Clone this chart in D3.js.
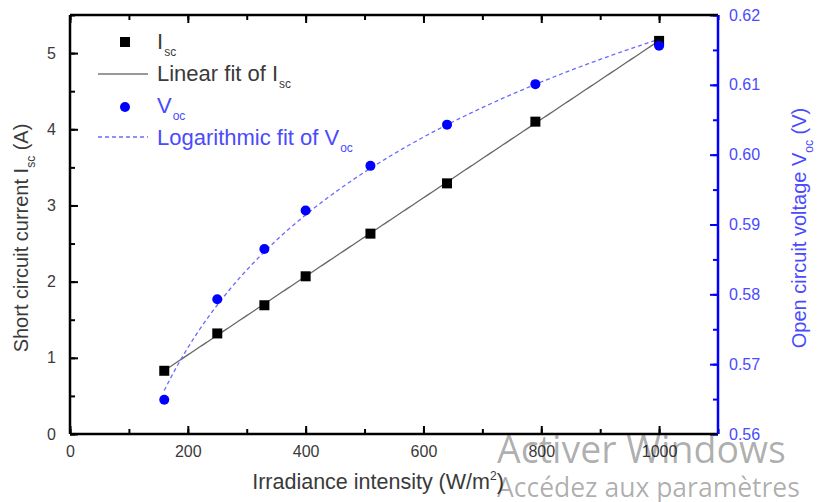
<!DOCTYPE html>
<html>
<head>
<meta charset="utf-8">
<script src="https://cdn.jsdelivr.net/npm/d3@7"></script>
<style>
  body { margin: 0; background: #fff; }
  svg { font-family: "Liberation Sans", Arial, sans-serif; }
</style>
</head>
<body>
<svg id="chart" width="822" height="502"></svg>
<script>
// --- data ---
const irradiance = [160, 250, 330, 400, 510, 640, 790, 1000];
const isc = [0.83, 1.32, 1.69, 2.07, 2.63, 3.29, 4.10, 5.16];
const voc = [0.5649, 0.5793, 0.5865, 0.5920, 0.5984, 0.6043, 0.6101, 0.6156];

const xTicks = [0, 200, 400, 600, 800, 1000];
const iscTicks = [0, 1, 2, 3, 4, 5];
const vocTicks = [0.56, 0.57, 0.58, 0.59, 0.60, 0.61, 0.62];

const svg = d3.select("#chart");
const plot = { left: 70, right: 718, top: 15, bottom: 434 };

const x = d3.scaleLinear().domain([0, 1100]).range([plot.left, plot.right]);
const yI = d3.scaleLinear().domain([0, 5.5]).range([plot.bottom, plot.top]);
const yV = d3.scaleLinear().domain([0.56, 0.62]).range([plot.bottom, plot.top]);

const blue = "#0000ff";
const lightBlue = "#4a4aff";
const grey = "#3a3a3a";

// least squares fits (linear for Isc, log for Voc)
function fitLinear(xs, ys) {
    const n = xs.length;
    const mx = d3.mean(xs), my = d3.mean(ys);
    let sxy = 0, sxx = 0;
    for (let i = 0; i < n; i++) {
        sxy += (xs[i] - mx) * (ys[i] - my);
        sxx += (xs[i] - mx) * (xs[i] - mx);
    }
    const b = sxy / sxx;
    return { a: my - b * mx, b: b };
}
const lin = fitLinear(irradiance, isc);
const logf = fitLinear(irradiance.map(Math.log), voc);

const fitXs = d3.range(d3.min(irradiance), d3.max(irradiance) + 1, 5);

// --- axes (ticks pointing inward) ---
function minorTicks(scale, step) {
    const [a, b] = scale.domain();
    return d3.range(a, b + step / 2, step);
}

function addAxis(axis, pos, cls) {
    return svg.append("g")
        .attr("class", cls)
        .attr("transform", pos)
        .call(axis)
        .call(g => g.select(".domain").remove());
}

const bottomT = `translate(0,${plot.bottom})`;
const topT = `translate(0,${plot.top})`;
const leftT = `translate(${plot.left},0)`;
const rightT = `translate(${plot.right},0)`;

addAxis(d3.axisBottom(x).tickValues(minorTicks(x, 100)).tickSize(-5).tickFormat(""), bottomT, "ax");
addAxis(d3.axisBottom(x).tickValues(xTicks).tickSize(-8).tickPadding(12).tickFormat(d3.format("d")), bottomT, "ax");
addAxis(d3.axisTop(x).tickValues(minorTicks(x, 100)).tickSize(-5).tickFormat(""), topT, "ax");
addAxis(d3.axisTop(x).tickValues(xTicks).tickSize(-8).tickFormat(""), topT, "ax");
addAxis(d3.axisLeft(yI).tickValues(minorTicks(yI, 0.5)).tickSize(-5).tickFormat(""), leftT, "ax");
addAxis(d3.axisLeft(yI).tickValues(iscTicks).tickSize(-8).tickPadding(14).tickFormat(d3.format("d")), leftT, "ax");
addAxis(d3.axisRight(yV).tickValues(minorTicks(yV, 0.005)).tickSize(-5).tickFormat(""), rightT, "axr");
addAxis(d3.axisRight(yV).tickValues(vocTicks).tickSize(-8).tickPadding(11).tickFormat(d3.format(".2f")), rightT, "axr");

svg.selectAll(".tick line").attr("stroke-width", 2).attr("stroke", "#000");
svg.selectAll(".axr .tick line").attr("stroke", blue);
svg.selectAll(".tick text").attr("font-size", 16).attr("fill", grey)
    .attr("font-family", "Liberation Sans, Arial, sans-serif");
svg.selectAll(".axr .tick text").attr("fill", lightBlue);

// frame lines
function frame(x1, y1, x2, y2, color) {
    svg.append("line").attr("x1", x1).attr("y1", y1).attr("x2", x2).attr("y2", y2)
        .attr("stroke", color).attr("stroke-width", 2.5);
}
frame(plot.left, plot.bottom, plot.right, plot.bottom, "#000");
frame(plot.left, plot.top, plot.right, plot.top, "#000");
frame(plot.left, plot.top, plot.left, plot.bottom, "#000");
frame(plot.right, plot.top, plot.right, plot.bottom, blue);

// --- fits ---
svg.append("path")
    .datum(fitXs)
    .attr("fill", "none")
    .attr("stroke", "#666")
    .attr("stroke-width", 1.3)
    .attr("d", d3.line().x(d => x(d)).y(d => yI(lin.a + lin.b * d)));

svg.append("path")
    .datum(fitXs)
    .attr("fill", "none")
    .attr("stroke", "#6a6aff")
    .attr("stroke-width", 1.3)
    .attr("stroke-dasharray", "4,3")
    .attr("d", d3.line().x(d => x(d)).y(d => yV(logf.a + logf.b * Math.log(d))));

// --- markers ---
svg.append("g").selectAll("rect")
    .data(irradiance.map((d, i) => [d, isc[i]]))
    .join("rect")
    .attr("x", d => x(d[0]) - 5)
    .attr("y", d => yI(d[1]) - 5)
    .attr("width", 10)
    .attr("height", 10)
    .attr("fill", "#000");

svg.append("g").selectAll("circle")
    .data(irradiance.map((d, i) => [d, voc[i]]))
    .join("circle")
    .attr("cx", d => x(d[0]))
    .attr("cy", d => yV(d[1]))
    .attr("r", 5)
    .attr("fill", blue);

// --- legend ---
const lg = svg.append("g").attr("font-size", 22);
function subText(xp, yp, main, sub, color) {
    const t = lg.append("text").attr("x", xp).attr("y", yp).attr("fill", color);
    t.append("tspan").text(main);
    t.append("tspan").attr("font-size", 12).attr("dy", 7).attr("dx", 1).text(sub);
}
lg.append("rect").attr("x", 120).attr("y", 37).attr("width", 10).attr("height", 10).attr("fill", "#000");
subText(157, 49, "I", "sc", grey);
lg.append("line").attr("x1", 98).attr("x2", 148).attr("y1", 74).attr("y2", 74).attr("stroke", "#333").attr("stroke-width", 1);
subText(157, 81, "Linear fit of I", "sc", grey);
lg.append("circle").attr("cx", 125).attr("cy", 107).attr("r", 5).attr("fill", blue);
subText(157, 113, "V", "oc", lightBlue);
lg.append("line").attr("x1", 98).attr("x2", 148).attr("y1", 137).attr("y2", 137)
    .attr("stroke", "#6a6aff").attr("stroke-width", 1.3).attr("stroke-dasharray", "4,3");
subText(157, 145, "Logarithmic fit of V", "oc", lightBlue);

// --- axis titles ---
const xt = svg.append("text").attr("x", 378).attr("y", 489).attr("text-anchor", "middle")
    .attr("font-size", 21.5).attr("fill", grey);
xt.append("tspan").text("Irradiance intensity (W/m");
xt.append("tspan").attr("font-size", 12).attr("dy", -9).text("2");
xt.append("tspan").attr("dy", 9).text(")");

const lt = svg.append("text").attr("transform", "translate(28,238) rotate(-90)").attr("text-anchor", "middle")
    .attr("font-size", 20).attr("fill", grey);
lt.append("tspan").text("Short circuit current  I");
lt.append("tspan").attr("font-size", 12).attr("dy", 7).text("sc");
lt.append("tspan").attr("dy", -7).text(" (A)");

const rt = svg.append("text").attr("transform", "translate(806,228) rotate(-90)").attr("text-anchor", "middle")
    .attr("font-size", 20).attr("fill", lightBlue);
rt.append("tspan").text("Open circuit voltage  V");
rt.append("tspan").attr("font-size", 12).attr("dy", 7).text("oc");
rt.append("tspan").attr("dy", -7).text(" (V)");

// --- watermark ---
svg.append("text").attr("x", 497).attr("y", 463).attr("font-size", 37.5)
    .attr("font-family", "Open Sans, sans-serif").attr("fill", "#000").attr("fill-opacity", 0.32)
    .text("Activer Windows");
svg.append("text").attr("x", 497).attr("y", 497).attr("font-size", 26.5)
    .attr("font-family", "Open Sans, sans-serif").attr("fill", "#000").attr("fill-opacity", 0.32)
    .text("Accédez aux paramètres");
</script>
</body>
</html>
